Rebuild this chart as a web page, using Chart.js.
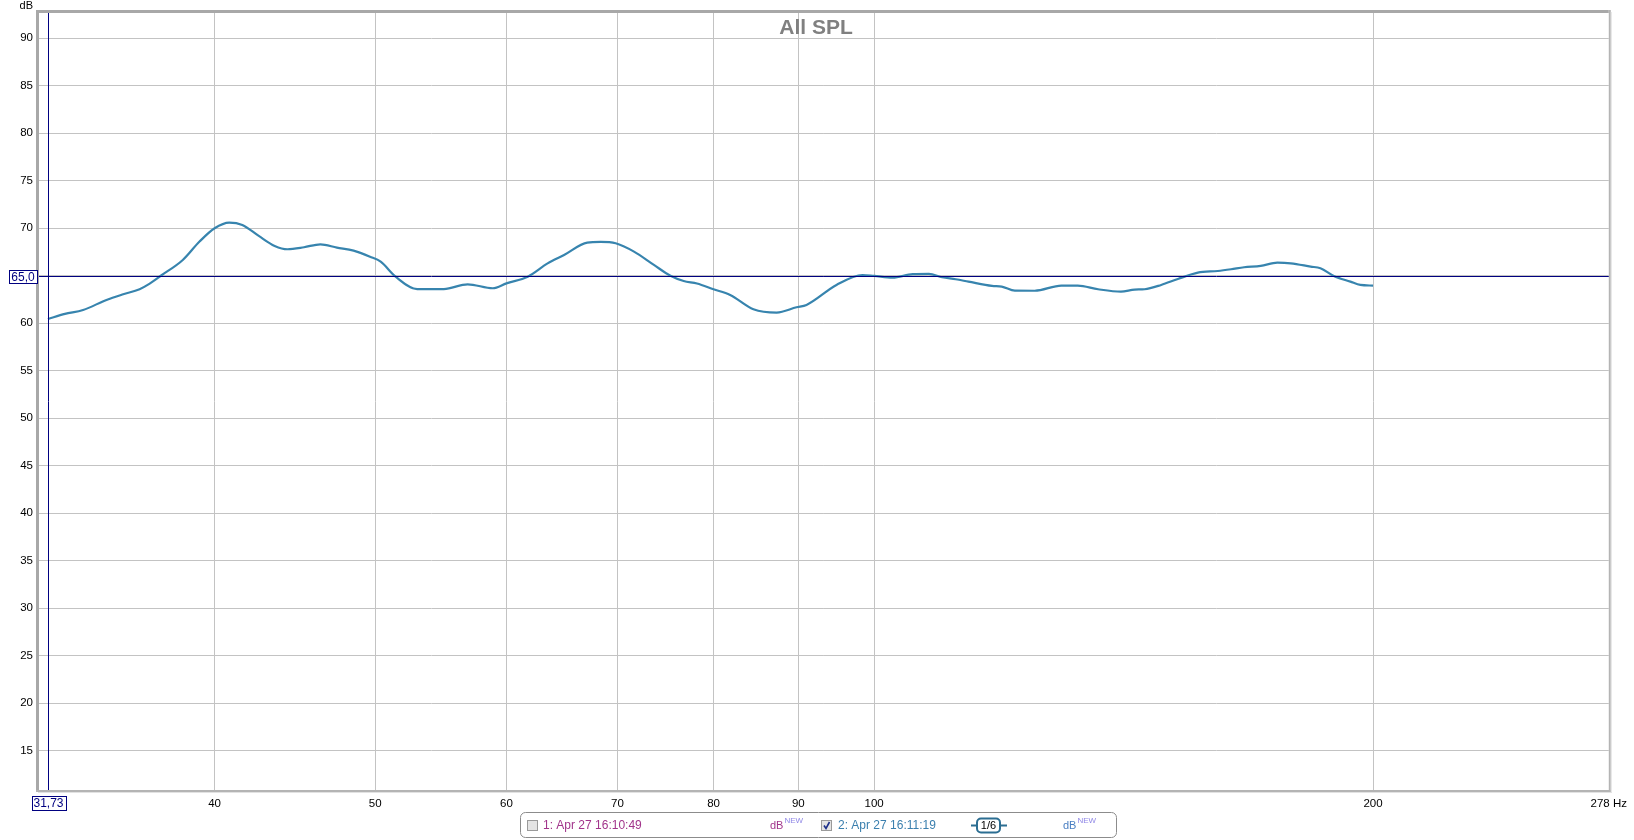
<!DOCTYPE html>
<html>
<head>
<meta charset="utf-8">
<title>All SPL</title>
<script src="https://cdn.jsdelivr.net/npm/chart.js@4.4.1/dist/chart.umd.min.js"></script>
<style>
  html, body { margin: 0; padding: 0; background: #fff; }
  #wrap { position: relative; width: 1634px; height: 840px; }
</style>
</head>
<body>
<div id="wrap"><canvas id="spl" width="1634" height="840"></canvas></div>
<script>
// measurement 2 (Apr 27 16:11:19), 1/6 octave smoothing
const freqs = [31.73, 32.49, 33.32, 34.42, 35.23, 36.04, 36.53, 37.12, 38.27, 39.17,
  40.0, 40.82, 41.57, 42.53, 43.48, 44.26, 45.29, 46.33, 47.41, 48.52,
  49.64, 50.38, 51.44, 53.0, 55.0, 56.85, 58.87, 60.0, 61.8, 63.53,
  65.0, 67.13, 68.38, 69.83, 71.63, 73.64, 75.35, 76.75, 78.18, 80.0,
  81.87, 84.56, 87.33, 89.78, 91.03, 94.9, 98.4, 100, 102.6, 105.5,
  107.9, 109.9, 112.0, 114.0, 117.8, 119.4, 121.6, 125.0, 129.7, 132.7,
  136.5, 140.9, 143.6, 145.6, 149.0, 152.5, 156.8, 161.2, 164.2, 167.2,
  171.1, 175.1, 178.4, 183.4, 185.9, 189.4, 193.8, 196.5, 200];
const splValues = [60.45, 60.98, 61.4, 62.45, 63.05, 63.58, 64.14, 65.0, 66.66, 68.6,
  70.0, 70.6, 70.35, 69.19, 68.14, 67.79, 68.0, 68.31, 67.96, 67.64,
  67.0, 66.48, 64.9, 63.6, 63.6, 64.1, 63.68, 64.2, 64.9, 66.3,
  67.19, 68.49, 68.56, 68.42, 67.54, 66.14, 65.0, 64.45, 64.18, 63.58,
  62.98, 61.47, 61.12, 61.68, 61.93, 64.03, 65.08, 64.98, 64.8, 65.16,
  65.19, 64.84, 64.63, 64.38, 63.93, 63.86, 63.43, 63.42, 63.96, 63.96,
  63.58, 63.33, 63.54, 63.58, 64.03, 64.66, 65.33, 65.5, 65.68, 65.89,
  66.03, 66.38, 66.31, 65.96, 65.79, 64.98, 64.38, 64.03, 63.96];

const xTicks = [40, 50, 60, 70, 80, 90, 100, 200, 277.5];
const yTicks = [15, 20, 25, 30, 35, 40, 45, 50, 55, 60, 65, 70, 75, 80, 85, 90];
const cursorFreq = 31.73;
const cursorLevel = 65.0;

const FONT = '"Liberation Sans", Arial, sans-serif';

function boxLabel(ctx, text, cx, cy, w, h) {
  ctx.fillStyle = '#fff';
  ctx.fillRect(Math.round(cx - w / 2) + 0.5, Math.round(cy - h / 2) + 0.5, w, h);
  ctx.strokeStyle = '#000080';
  ctx.lineWidth = 1;
  ctx.strokeRect(Math.round(cx - w / 2) + 0.5, Math.round(cy - h / 2) + 0.5, w, h);
  ctx.fillStyle = '#000080';
  ctx.font = '12px ' + FONT;
  ctx.textAlign = 'center';
  ctx.textBaseline = 'middle';
  ctx.fillText(text, cx, cy + 1);
}

function checkbox(ctx, x, y, checked) {
  ctx.fillStyle = '#e4e4e4';
  ctx.fillRect(x, y, 11, 11);
  ctx.strokeStyle = '#9a9a9a';
  ctx.lineWidth = 1;
  ctx.strokeRect(x + 0.5, y + 0.5, 10, 10);
  if (checked) {
    ctx.strokeStyle = '#1c2f8a';
    ctx.lineWidth = 1.6;
    ctx.beginPath();
    ctx.moveTo(x + 3, y + 5.5);
    ctx.lineTo(x + 5, y + 8.5);
    ctx.lineTo(x + 8.5, y + 2);
    ctx.stroke();
  }
}

function dbNew(ctx, x, y, col) {
  ctx.textAlign = 'left';
  ctx.textBaseline = 'middle';
  ctx.font = '11px ' + FONT;
  ctx.fillStyle = col;
  ctx.fillText('dB', x, y + 1);
  const w = ctx.measureText('dB').width;
  ctx.font = '8px ' + FONT;
  ctx.fillStyle = '#8f86e6';
  ctx.fillText('NEW', x + w + 1, y - 4);
}

const overlay = {
  id: 'overlay',
  beforeDatasetsDraw(chart) {
    const { ctx } = chart;
    ctx.save();
    // title inside plot
    ctx.fillStyle = '#808080';
    ctx.font = 'bold 21px ' + FONT;
    ctx.textAlign = 'center';
    ctx.textBaseline = 'middle';
    ctx.fillText('All SPL', 816, 28);
    ctx.restore();
  },
  afterDraw(chart) {
    const { ctx, chartArea: a, scales } = chart;
    ctx.save();
    // frame
    ctx.fillStyle = '#a8a8a8';
    ctx.fillRect(a.left - 3, a.top - 3, a.right - a.left + 3, 3);
    ctx.fillRect(a.left - 3, a.top - 3, 3, a.bottom - a.top + 3);
    ctx.fillStyle = '#b4b4b4';
    ctx.fillRect(a.right, a.top - 3, 2, a.bottom - a.top + 5);
    ctx.fillRect(a.left - 3, a.bottom, a.right - a.left + 5, 2);
    ctx.fillStyle = '#e2e2e2';
    ctx.fillRect(a.right + 2, a.top - 1, 1, a.bottom - a.top + 4);
    ctx.fillRect(a.left - 1, a.bottom + 2, a.right - a.left + 4, 1);

    // cursor lines
    const cx = Math.round(scales.x.getPixelForValue(cursorFreq)) + 0.5;
    const cy = Math.round(scales.y.getPixelForValue(cursorLevel)) + 0.5;
    ctx.strokeStyle = '#000080';
    ctx.lineWidth = 1;
    ctx.beginPath();
    ctx.moveTo(cx, a.top);
    ctx.lineTo(cx, a.bottom);
    ctx.moveTo(a.left, cy);
    ctx.lineTo(a.right, cy);
    ctx.stroke();
    boxLabel(ctx, '65,0', 23, cy, 28, 13);
    boxLabel(ctx, '31,73', cx, 803, 34, 14);

    // axis unit
    ctx.fillStyle = '#000';
    ctx.font = '11px ' + FONT;
    ctx.textAlign = 'right';
    ctx.textBaseline = 'middle';
    ctx.fillText('dB', 33, 6);

    // legend panel
    ctx.beginPath();
    ctx.roundRect(520.5, 812.5, 596, 25, 5);
    ctx.fillStyle = '#fff';
    ctx.fill();
    ctx.strokeStyle = '#8c8c8c';
    ctx.lineWidth = 1;
    ctx.stroke();

    const ly = 825;
    checkbox(ctx, 527, ly - 5, false);
    ctx.font = '12px ' + FONT;
    ctx.textAlign = 'left';
    ctx.textBaseline = 'middle';
    ctx.fillStyle = '#a1348b';
    ctx.fillText('1: Apr 27 16:10:49', 543, ly + 1);
    dbNew(ctx, 770, ly, '#a1348b');

    checkbox(ctx, 821, ly - 5, true);
    ctx.font = '12px ' + FONT;
    ctx.fillStyle = '#3a7fae';
    ctx.fillText('2: Apr 27 16:11:19', 838, ly + 1);

    // smoothing widget
    ctx.strokeStyle = '#2c6e92';
    ctx.lineWidth = 2;
    ctx.beginPath();
    ctx.moveTo(971, ly + 0.5);
    ctx.lineTo(977, ly + 0.5);
    ctx.moveTo(1000, ly + 0.5);
    ctx.lineTo(1007, ly + 0.5);
    ctx.stroke();
    ctx.beginPath();
    ctx.roundRect(977, ly - 6.5, 23, 14, 4);
    ctx.stroke();
    ctx.fillStyle = '#000';
    ctx.font = '11px ' + FONT;
    ctx.textAlign = 'center';
    ctx.fillText('1/6', 988.5, ly + 1);

    dbNew(ctx, 1063, ly, '#4a7fc2');
    ctx.restore();
  }
};

const points = freqs.map((f, i) => ({ x: f, y: splValues[i] }));

new Chart(document.getElementById('spl').getContext('2d'), {
  type: 'scatter',
  data: {
    datasets: [{
      label: '2: Apr 27 16:11:19',
      data: points,
      showLine: true,
      borderColor: '#3784ae',
      borderWidth: 2.2,
      pointRadius: 0,
      cubicInterpolationMode: 'monotone',
      fill: false
    }]
  },
  options: {
    responsive: false,
    animation: false,
    devicePixelRatio: 1,
    layout: { padding: { top: 13, right: 19, left: 0, bottom: 0 } },
    plugins: {
      legend: { display: false },
      tooltip: { enabled: false },
      title: { display: false }
    },
    scales: {
      x: {
        type: 'logarithmic',
        min: 31.34,
        max: 277.5,
        afterBuildTicks: (s) => { s.ticks = xTicks.map(v => ({ value: v })); },
        afterFit: (s) => { s.height = 50; },
        border: { display: false },
        grid: {
          color: (c) => (c.tick && c.tick.value > 270 ? 'rgba(0,0,0,0)' : '#c3c3c3'),
          drawTicks: false,
          lineWidth: 1
        },
        ticks: {
          autoSkip: false,
          maxRotation: 0,
          padding: 7,
          color: '#000',
          font: { family: FONT, size: 11.5 },
          callback: (v) => (v > 270 ? '278 Hz' : String(v))
        }
      },
      y: {
        type: 'linear',
        min: 10.86,
        max: 92.66,
        afterBuildTicks: (s) => { s.ticks = yTicks.map(v => ({ value: v })); },
        afterFit: (s) => { s.width = 39; },
        border: { display: false },
        grid: { color: '#c3c3c3', drawTicks: false, lineWidth: 1 },
        ticks: {
          padding: 6,
          color: '#000',
          font: { family: FONT, size: 11.5 },
          callback: (v) => String(v)
        }
      }
    }
  },
  plugins: [overlay]
});
</script>
</body>
</html>
